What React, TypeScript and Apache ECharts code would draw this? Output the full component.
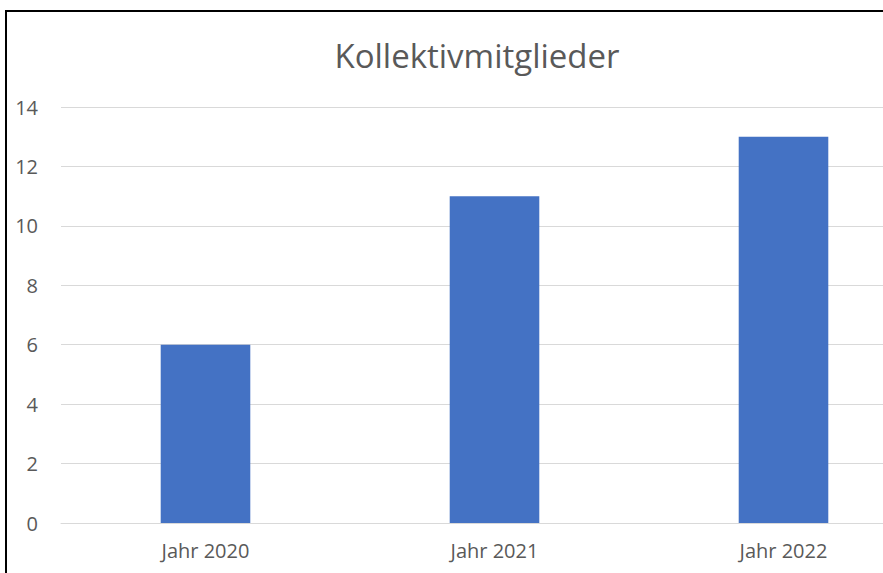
import React, { useEffect, useRef } from "react";
import * as echarts from "echarts";

const categories = ["Jahr 2020", "Jahr 2021", "Jahr 2022"];
const members = [6, 11, 13];
const yTicks = { min: 0, max: 14, interval: 2 };
const titleText = "Kollektivmitglieder";

export default function App() {
  const ref = useRef<HTMLDivElement>(null);
  useEffect(() => {
    document.body.style.margin = "0";
    const chart = echarts.init(ref.current!, null, { renderer: "svg" });
    const font = "'Open Sans', 'Noto Sans', sans-serif";
    chart.setOption({
      animation: false,
      backgroundColor: "#ffffff",
      textStyle: { fontFamily: font },
      grid: { left: 61, right: 2, top: 107, bottom: 50, containLabel: false },
      graphic: [
        {
          type: "text",
          x: 477,
          y: 55,
          style: {
            text: titleText,
            fill: "#595959",
            font: `33px ${font}`,
            textAlign: "center",
            textVerticalAlign: "middle",
          },
        },
        {
          type: "line",
          shape: { x1: 5, y1: 11, x2: 883, y2: 11 },
          style: { stroke: "#000000", lineWidth: 2 },
        },
        {
          type: "line",
          shape: { x1: 6, y1: 10, x2: 6, y2: 573 },
          style: { stroke: "#000000", lineWidth: 2 },
        },
      ],
      xAxis: {
        type: "category",
        data: categories,
        axisLine: { show: true, lineStyle: { color: "#D9D9D9", width: 1 } },
        axisTick: { show: false },
        axisLabel: { color: "#595959", fontSize: 20, margin: 17, fontFamily: font },
      },
      yAxis: {
        type: "value",
        min: yTicks.min,
        max: yTicks.max,
        interval: yTicks.interval,
        axisLine: { show: false },
        axisTick: { show: false },
        splitLine: { lineStyle: { color: "#D9D9D9", width: 1 } },
        axisLabel: { color: "#595959", fontSize: 20, margin: 23, fontFamily: font },
      },
      series: [
        {
          type: "bar",
          data: members,
          barWidth: "31%",
          itemStyle: { color: "#4472C4" },
        },
      ],
    });
    return () => chart.dispose();
  }, []);
  return (
    <div style={{ position: "fixed", left: 0, top: 0, width: 883, height: 573, overflow: "hidden" }}>
      <div ref={ref} style={{ width: 930, height: 573 }} />
    </div>
  );
}
